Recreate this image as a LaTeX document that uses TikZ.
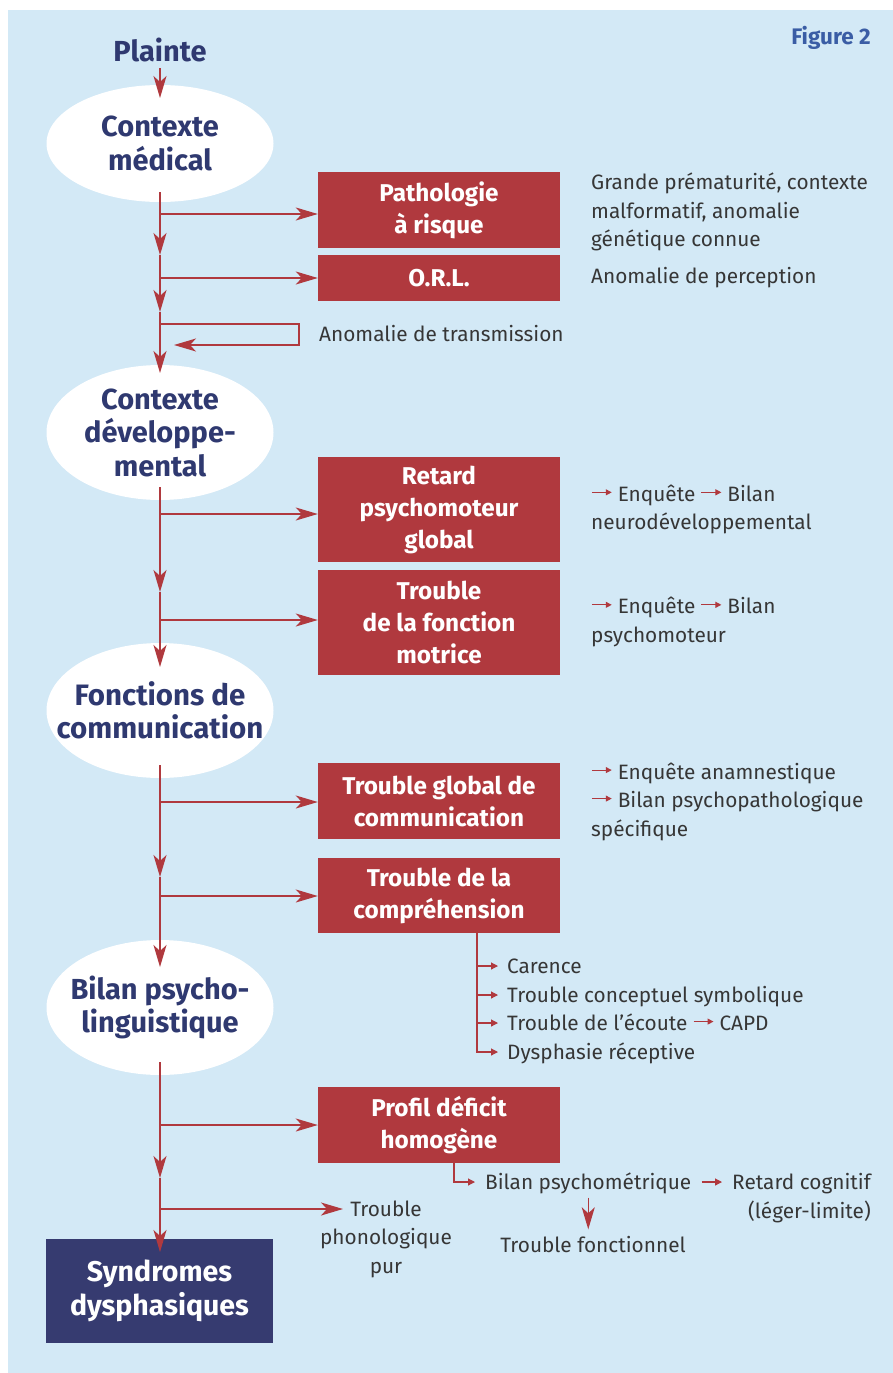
\documentclass[tikz,border=0pt]{standalone}
\usepackage{fontspec}
\setmainfont{Fira Sans}
\usepackage{tikz}
\usetikzlibrary{
  arrows.meta,
  shapes.geometric}

\definecolor{fond}{HTML}{D3E9F6}
\definecolor{rouge}{HTML}{B0393E}
\definecolor{marine}{HTML}{363B70}
\definecolor{encre}{HTML}{2F3970}
\definecolor{gris}{HTML}{363636}
\definecolor{bleufig}{HTML}{3A5DA5}

\tikzset{
  flow/.style={draw=rouge, line width=1.4pt,
    -{Stealth[length=22pt,width=13pt,inset=6pt]}},
  petite/.style={draw=rouge, line width=1.2pt,
    -{Triangle[length=7pt,width=7pt]}},
  bulle/.style={ellipse, fill=white, minimum width=227pt, inner sep=0pt},
  titre/.style={text=encre, inner sep=0pt, align=center,
    font=\fontsize{29}{33.5}\selectfont\bfseries},
  boite/.style={fill=rouge, text=white, minimum width=242pt, inner sep=0pt,
    align=center, font=\fontsize{24.3}{32}\selectfont\bfseries},
  note/.style={text=gris, anchor=west, align=left, inner sep=0pt,
    font=\fontsize{20.8}{28.5}\selectfont},
  liste/.style={note, text height=18pt, text depth=3pt}
}

\newcommand\fl{\tikz[baseline=-0.43em]\draw[rouge, line width=1.1pt,
  -{Triangle[length=6pt,width=6pt]}] (0pt,0pt) -- (20pt,0pt);}

\begin{document}
\begin{tikzpicture}
\useasboundingbox (0pt,0pt) rectangle (893pt,-1373pt);
\fill[fond] (8pt,-10pt) rectangle (893pt,-1373pt);

\node[anchor=east, inner sep=0pt, text=bleufig,
  font=\fontsize{22.5}{24}\selectfont\bfseries] (fig) at (871pt,-38pt) {Figure 2};

% colonne principale
\node[titre] (plainte) at (160pt,-50pt) {Plainte};
\node[bulle, minimum height=117pt] (cmed) at (160pt,-143.5pt) {};
\node[titre] (cmedt) at (cmed) {Contexte\\médical};
\node[bulle, minimum height=135pt] (cdev) at (160pt,-432.5pt) {};
\node[titre] (cdevt) at (cdev) {Contexte\\développe-\\mental};
\node[bulle, minimum height=135pt] (fcom) at (160pt,-710.5pt) {};
\node[titre, font=\fontsize{29.5}{33.5}\selectfont\bfseries] (fcomt) at (fcom) {Fonctions de\\communication};
\node[bulle, minimum height=135pt] (bpl) at (160pt,-1007.5pt) {};
\node[titre] (bplt) at (bpl) {Bilan psycho-\\linguistique};
\node[fill=marine, text=white, minimum width=227pt, minimum height=104pt,
  inner sep=0pt, align=center, font=\fontsize{28.5}{34}\selectfont\bfseries]
  (synd) at (159.5pt,-1291pt) {Syndromes\\dysphasiques};

% boites rouges
\node[boite, minimum height=76pt] (patho) at (439pt,-210pt) {Pathologie\\à risque};
\node[boite, minimum height=46pt] (orl) at (439pt,-278pt) {O.R.L.};
\node[boite, minimum height=105pt] (retard) at (439pt,-509.5pt) {Retard\\psychomoteur\\global};
\node[boite, minimum height=105pt] (motr) at (439pt,-622.5pt) {Trouble\\de la fonction\\motrice};
\node[boite, minimum height=76pt] (glob) at (439pt,-801pt) {Trouble global de\\communication};
\node[boite, minimum height=75pt] (comp) at (439pt,-895.5pt) {Trouble de la\\compréhension};
\node[boite, minimum height=76pt] (profil) at (439pt,-1125pt) {Profil déficit\\homogène};

% textes
\node[note] (grande) at (591pt,-212pt)
  {Grande prématurité, contexte\\malformatif, anomalie\\génétique connue};
\node[note] (percep) at (591pt,-278pt) {Anomalie de perception};
\node[note] (transm) at (319pt,-334pt) {Anomalie de transmission};
\node[note] (neuro) at (591pt,-509.5pt) {\fl{} Enquête \fl{} Bilan\\neurodéveloppemental};
\node[note] (psymot) at (591pt,-622pt) {\fl{} Enquête \fl{} Bilan\\psychomoteur};
\node[note] (anamn) at (591pt,-801.5pt)
  {\fl{} Enquête anamnestique\\\fl{} Bilan psychopathologique\\spécifique};
\node[liste] (carence) at (507pt,-966pt) {Carence};
\node[liste] (concept) at (507pt,-995pt) {Trouble conceptuel symbolique};
\node[liste] (ecoute) at (507pt,-1023pt) {Trouble de l’écoute \fl{} CAPD};
\node[liste] (dysph) at (507pt,-1052pt) {Dysphasie réceptive};
\node[liste] (psychom) at (485pt,-1182pt) {Bilan psychométrique};
\node[liste] (retcog) at (732pt,-1182pt) {Retard cognitif};
\node[note, anchor=base east] (leger) at ([yshift=-28.5pt]retcog.base east) {(léger-limite)};
\node[liste, anchor=center] (fonct) at (593pt,-1245pt) {Trouble fonctionnel};
\node[note, anchor=center, align=center] (phono) at (386pt,-1239pt)
  {Trouble\\phonologique\\pur};

% embranchements
\coordinate (t0) at (160pt,-98pt);
\coordinate (j1) at (160pt,-214pt);
\coordinate (t1) at (160pt,-255pt);
\coordinate (j2) at (160pt,-278pt);
\coordinate (t2) at (160pt,-312pt);
\coordinate (j3) at (160pt,-324pt);
\coordinate (t3) at (160pt,-373pt);
\coordinate (ret) at (174pt,-345pt);
\coordinate (j4) at (160pt,-514pt);
\coordinate (t4) at (160pt,-592pt);
\coordinate (j5) at (160pt,-620pt);
\coordinate (t5) at (160pt,-667pt);
\coordinate (j6) at (160pt,-802pt);
\coordinate (t6) at (160pt,-877pt);
\coordinate (j7) at (160pt,-896pt);
\coordinate (t7) at (160pt,-967pt);
\coordinate (j8) at (160pt,-1125pt);
\coordinate (t8) at (160pt,-1178pt);
\coordinate (j9) at (160pt,-1209pt);
\coordinate (t9) at (160pt,-1252pt);
\coordinate (phoa) at (343pt,-1209pt);
\coordinate (c0) at ([xshift=38pt]comp.south);
\coordinate (p0) at ([xshift=15pt]profil.south);

\draw[flow, shorten <=6pt] (plainte) -- (t0);
\draw[flow] ([yshift=10pt]cmed.south) -- (t1);
\draw[flow] (t1) -- (t2);
\draw[flow] (t2) -- (t3);
\draw[flow] (j1) -- (j1 -| patho.west);
\draw[flow] (j2) -- (j2 -| orl.west);
\draw[flow, line width=1.2pt] (j3) -- ++(139pt,0pt) |- (ret);

\draw[flow] ([yshift=13pt]cdev.south) -- (t4);
\draw[flow] (t4) -- (t5);
\draw[flow] (j4) -- (j4 -| retard.west);
\draw[flow] (j5) -- (j5 -| motr.west);

\draw[flow] ([yshift=13pt]fcom.south) -- (t6);
\draw[flow] (t6) -- (t7);
\draw[flow] (j6) -- (j6 -| glob.west);
\draw[flow] (j7) -- (j7 -| comp.west);

\draw[flow] ([yshift=13pt]bpl.south) -- (t8);
\draw[flow] (t8) -- (t9);
\draw[flow] (j8) -- (j8 -| profil.west);
\draw[flow] (j9) -- (phoa);

% sous-branches
\draw[petite] (c0) |- ([xshift=-9pt]dysph.west);
\foreach \n in {carence,concept,ecoute}
  \draw[petite] (c0 |- \n) -- ([xshift=-9pt]\n.west);
\draw[petite] (p0) |- ([xshift=-10pt]psychom.west);
\draw[petite] ([xshift=10pt]psychom.east) -- ([xshift=-10pt]retcog.west);
\draw[flow, shorten <=5pt, shorten >=5pt] (psychom.south) -- (psychom.south |- fonct.north);

\end{tikzpicture}
\end{document}
